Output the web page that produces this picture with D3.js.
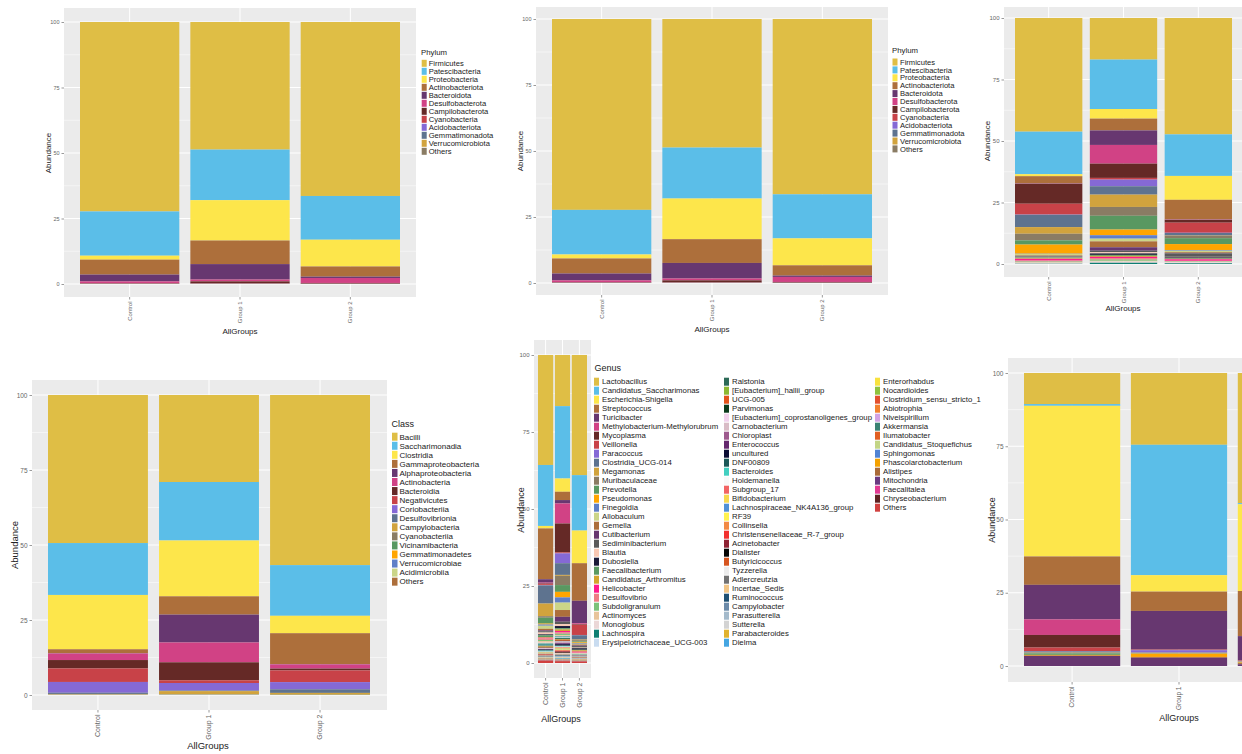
<!DOCTYPE html>
<html>
<head>
<meta charset="utf-8">
<script src="https://cdn.jsdelivr.net/npm/d3@7"></script>
<style>
  html, body { margin: 0; padding: 0; background: #ffffff; }
  svg { display: block; font-family: "Liberation Sans", Arial, sans-serif; }
</style>
</head>
<body>
<svg id="chart" width="1242" height="754"></svg>
<script>
// ---------- shared ----------
const groups = ["Control", "Group 1", "Group 2"];
const yTicks = [0, 25, 50, 75, 100];
const yTickLabels = ["0", "25", "50", "75", "100"];
const yMinorTicks = [12.5, 37.5, 62.5, 87.5];

// colour palette shared by every taxonomic rank
const palette = [
  "#DFBE45", "#5BBEE8", "#FDE64B", "#AD6F3B", "#673770", "#D14285", "#652926", "#C84248",
  "#8569D5", "#5E738F", "#D1A33D", "#8A7C64", "#599861", "#FFA500", "#5F7FC7", "#CBD588",
  "#AD6F3B", "#673770", "#5A5A5A", "#F9C9B4", "#1B1B38", "#5B9A62", "#D4A52E", "#FF1B8D",
  "#EE7C84", "#7CC279", "#E8C49B", "#EBD7D7", "#0E7F73", "#C9DCF0",
  "#2C6A57", "#8DB832", "#E2531C", "#0B3A1C", "#F1D1EC", "#D9BCC6", "#9E5A8E", "#64286E",
  "#0C0C34", "#1B5858", "#43CFC0", "#F8F8F8", "#F26464", "#F7D84E", "#5190D6", "#FFF24F",
  "#F28A44", "#F2302F", "#8E2233", "#050505", "#D6551F", "#ECECEC", "#727272", "#F2C586",
  "#1F5072", "#6B8AA9", "#A4BACB", "#D3D3D3", "#E0B22F", "#45A6E2",
  "#F8E23E", "#8FC23E", "#E3502E", "#F2812E", "#D3A2E3", "#3A8172", "#E15F22", "#C3D585",
  "#5183D3", "#F4A100", "#A96B39", "#6A3A82", "#E23A93", "#5F2221", "#D1403F"
];

// ---------- phylum ----------
const phylumTaxa = ["Firmicutes", "Patescibacteria", "Proteobacteria", "Actinobacteriota",
  "Bacteroidota", "Desulfobacterota", "Campilobacterota", "Cyanobacteria", "Acidobacteriota",
  "Gemmatimonadota", "Verrucomicrobiota", "Others"];
const phylumControl = [72.3, 16.9, 1.5, 5.7, 2.6, 0.7, 0.15, 0.05, 0.03, 0.03, 0.02, 0.02];
const phylumGroup1  = [48.7, 19.3, 15.4, 9.0, 5.9, 0.7, 0.75, 0.1, 0.05, 0.04, 0.03, 0.03];
const phylumGroup2  = [66.4, 16.7, 10.2, 3.9, 0.5, 1.9, 0.25, 0.05, 0.03, 0.03, 0.02, 0.02];

// ---------- class ----------
const classTaxa = ["Bacilli", "Saccharimonadia", "Clostridia", "Gammaproteobacteria",
  "Alphaproteobacteria", "Actinobacteria", "Bacteroidia", "Negativicutes", "Coriobacteriia",
  "Desulfovibrionia", "Campylobacteria", "Cyanobacteriia", "Vicinamibacteria",
  "Gemmatimonadetes", "Verrucomicrobiae", "Acidimicrobiia", "Others"];
const classControl = [49.35, 17.3, 18.1, 1.3, 0.1, 2.2, 2.8, 4.5, 3.6, 0.4, 0.1, 0.04, 0.04, 0.04, 0.04, 0.04, 0.05];
const classGroup1  = [29.0, 19.5, 18.6, 6.1, 9.3, 6.6, 6.0, 0.9, 2.5, 0.2, 1.0, 0.1, 0.05, 0.05, 0.05, 0.05, 0];
const classGroup2  = [56.7, 16.9, 5.8, 10.3, 0.1, 1.4, 0.6, 3.9, 2.4, 1.2, 0.6, 0.05, 0.05, 0, 0, 0, 0];

// ---------- family ----------
const familyTaxa = ["Lactobacillaceae", "Saccharimonadaceae", "Enterobacteriaceae", "Streptococcaceae",
  "Erysipelotrichaceae", "Beijerinckiaceae", "Mycoplasmataceae", "Veillonellaceae", "Rhodobacteraceae",
  "Clostridia_UCG-014", "Selenomonadaceae", "Muribaculaceae", "Prevotellaceae", "Pseudomonadaceae",
  "Peptostreptococcaceae", "Erysipelatoclostridiaceae", "Gemellaceae", "Propionibacteriaceae",
  "Chitinophagaceae", "Lachnospiraceae", "Bacteroidaceae", "Ruminococcaceae", "Clostridiaceae",
  "Helicobacteraceae", "Desulfovibrionaceae", "Oscillospiraceae", "Actinomycetaceae",
  "Monoglobaceae", "Others"];
const familyControl = [46.2, 17.3, 0.8, 2.9, 0.1, 0.1, 8.1, 4.4, 0.1, 5.0, 2.7, 2.7, 1.7, 3.7,
  0.1, 0.6, 0.2, 0.1, 0.3, 0.2, 0.1, 0.3, 0.2, 0.7, 0.4, 0.3, 0.2, 0.4, 0.1];
const familyGroup1  = [16.9, 20.1, 3.9, 4.8, 5.9, 7.6, 5.8, 0.7, 2.7, 3.4, 5.0, 3.6, 5.6, 2.3,
  1.4, 1.1, 2.4, 1.4, 0.6, 0.5, 0.6, 0.4, 0.4, 0.5, 0.6, 0.5, 0.3, 0.5, 0.5];
const familyGroup2  = [47.3, 16.9, 9.7, 8.0, 0.1, 0.1, 1.1, 4.1, 0.1, 0.9, 0.1, 1.1, 2.4, 2.4,
  0.3, 0.6, 0.3, 0.2, 1.4, 0.2, 0.4, 0.2, 0.2, 0.6, 0.2, 0.2, 0.1, 0.5, 0.3];

// ---------- genus ----------
const genusTaxa = [
  "Lactobacillus", "Candidatus_Saccharimonas", "Escherichia-Shigella", "Streptococcus", "Turicibacter",
  "Methylobacterium-Methylorubrum", "Mycoplasma", "Veillonella", "Paracoccus", "Clostridia_UCG-014",
  "Megamonas", "Muribaculaceae", "Prevotella", "Pseudomonas", "Finegoldia", "Allobaculum", "Gemella",
  "Cutibacterium", "Sediminibacterium", "Blautia", "Dubosiella", "Faecalibacterium",
  "Candidatus_Arthromitus", "Helicobacter", "Desulfovibrio", "Subdoligranulum", "Actinomyces",
  "Monoglobus", "Lachnospira", "Erysipelotrichaceae_UCG-003",
  "Ralstonia", "[Eubacterium]_hallii_group", "UCG-005", "Parvimonas",
  "[Eubacterium]_coprostanoligenes_group", "Carnobacterium", "Chloroplast", "Enterococcus",
  "uncultured", "DNF00809", "Bacteroides", "Holdemanella", "Subgroup_17", "Bifidobacterium",
  "Lachnospiraceae_NK4A136_group", "RF39", "Collinsella", "Christensenellaceae_R-7_group",
  "Acinetobacter", "Dialister", "Butyricicoccus", "Tyzzerella", "Adlercreutzia", "Incertae_Sedis",
  "Ruminococcus", "Campylobacter", "Parasutterella", "Sutterella", "Parabacteroides", "Dielma",
  "Enterorhabdus", "Nocardioides", "Clostridium_sensu_stricto_1", "Abiotrophia", "Niveispirillum",
  "Akkermansia", "Ilumatobacter", "Candidatus_Stoquefichus", "Sphingomonas", "Phascolarctobacterium",
  "Alistipes", "Mitochondria", "Faecalitalea", "Chryseobacterium", "Others"];
const genusControl = [
  35.7, 19.8, 0.8, 16.5, 1.1, 0.3, 0.2, 0.3, 0.1, 5.9, 4.1, 0.5, 1.9, 0.3, 0.4, 1.0, 0.5, 0.3, 0.4, 0.6,
  0.3, 0.6, 0.2, 0.2, 0.5, 0.4, 0.5, 0.3, 0.4, 0.2,
  0.2, 0.2, 0.3, 0.1, 0.2, 0.1, 0.1, 0.1, 0.3, 0.1, 0.3, 0.1, 0.1, 0.2, 0.2, 0.1, 0.2, 0.1, 0.1, 0.1,
  0.1, 0.1, 0.1, 0.1, 0.1, 0.1, 0.1, 0.1, 0.1, 0.1,
  0.05, 0.05, 0.1, 0.05, 0.05, 0.05, 0.05, 0.05, 0.05, 0.05, 0.05, 0.05, 0.05, 0.05, 0.75];
const genusGroup1 = [
  16.6, 23.5, 4.3, 2.7, 1.1, 6.5, 9.4, 0.3, 3.2, 3.8, 0.3, 3.0, 2.2, 1.8, 1.7, 2.4, 2.2, 1.6, 0.8, 0.6,
  0.7, 0.4, 0.5, 0.4, 0.5, 0.4, 0.3, 0.2, 0.3, 0.2,
  0.3, 0.2, 0.4, 0.2, 0.2, 0.2, 0.2, 0.3, 0.4, 0.2, 0.2, 0.2, 0.2, 0.3, 0.2, 0.2, 0.2, 0.2, 0.3, 0.2,
  0.2, 0.2, 0.2, 0.2, 0.2, 0.2, 0.2, 0.2, 0.2, 0.2,
  0.05, 0.05, 0.05, 0.05, 0.05, 0.05, 0.05, 0.05, 0.05, 0.05, 0.05, 0.05, 0.05, 0.05, 0.6];
const genusGroup2 = [
  39.0, 18.0, 10.6, 12.2, 7.3, 0.3, 0.2, 3.3, 0.1, 1.4, 0.2, 0.4, 0.3, 0.3, 0.2, 0.2, 0.3, 0.2, 0.5, 0.2,
  0.5, 0.2, 0.4, 0.3, 0.2, 0.1, 0.1, 0.1, 0.1, 0.1,
  0.05, 0.05, 0.05, 0.05, 0.05, 0.05, 0.05, 0.05, 0.05, 0.05, 0.05, 0.05, 0.05, 0.05, 0.05, 0.05, 0.05,
  0.05, 0.05, 0.05, 0.05, 0.05, 0.05, 0.05, 0.05, 0.05, 0.05, 0.05, 0.05, 0.05,
  0.05, 0.05, 0.05, 0.05, 0.05, 0.05, 0.05, 0.05, 0.05, 0.05, 0.05, 0.05, 0.05, 0.05, 0.5];

// ---------- order ----------
const orderTaxa = ["Lactobacillales", "Saccharimonadales", "Enterobacterales", "Burkholderiales",
  "Rhizobiales", "Mycoplasmatales", "Erysipelotrichales", "Veillonellales-Selenomonadales",
  "Rhodobacterales", "Oscillospirales", "Bacteroidales", "Lachnospirales", "Pseudomonadales",
  "Peptostreptococcales-Tissierellales", "Christensenellales", "Acholeplasmatales",
  "Propionibacteriales", "Others"];
const orderControl = [10.6, 0.6, 51.4, 9.7, 11.8, 5.3, 4.3, 1.2, 0.1, 0.4, 0.1, 0.2, 0.5, 0.3, 0, 0, 0, 3.5];
const orderGroup1  = [24.5, 44.5, 5.6, 6.6, 13.1, 0.1, 0.1, 0.1, 0.8, 0.1, 0.1, 0.1, 0.1, 1.1, 0, 0, 0.3, 2.8];
const orderGroup2  = [44.4, 0.4, 29.6, 15.4, 8.2, 0.1, 0.1, 0.1, 0.1, 0.1, 0.1, 0.1, 0.1, 0.2, 0, 0, 0.4, 0.6];

const svg = d3.select("#chart");

function drawPanel(cfg) {
  const g = svg.append("g");
  const x = d3.scaleBand().domain(groups).range(cfg.bars).paddingInner(0.1);
  const y = d3.scaleLinear().domain([0, 100]).range([cfg.yZero, cfg.yFull]);
  const [bx0, by0, bx1, by1] = cfg.bg;

  // panel background and grid
  g.append("rect").attr("x", bx0).attr("y", by0)
    .attr("width", bx1 - bx0).attr("height", by1 - by0).attr("fill", "#EBEBEB");
  g.selectAll("line.minor").data(yMinorTicks).join("line")
    .attr("x1", bx0).attr("x2", bx1).attr("y1", d => y(d)).attr("y2", d => y(d))
    .attr("stroke", "#ffffff").attr("stroke-width", 0.5);
  g.selectAll("line.major").data(yTicks).join("line")
    .attr("x1", bx0).attr("x2", bx1).attr("y1", d => y(d)).attr("y2", d => y(d))
    .attr("stroke", "#ffffff").attr("stroke-width", 1);
  g.selectAll("line.vmajor").data(groups).join("line")
    .attr("x1", d => x(d) + x.bandwidth() / 2).attr("x2", d => x(d) + x.bandwidth() / 2)
    .attr("y1", by0).attr("y2", by1)
    .attr("stroke", "#ffffff").attr("stroke-width", 1);

  // stacked bars: first taxon on top, last taxon at the bottom
  const rows = groups.map((grp, i) => {
    const r = { group: grp };
    cfg.taxa.forEach((t, j) => { r[t] = cfg.values[i][j]; });
    return r;
  });
  const series = d3.stack().keys(cfg.taxa).order(d3.stackOrderReverse)(rows);
  const color = d3.scaleOrdinal().domain(cfg.taxa).range(cfg.colors);
  g.append("g").selectAll("g").data(series).join("g")
    .attr("fill", d => color(d.key))
    .selectAll("rect").data(d => d).join("rect")
    .attr("x", d => x(d.data.group))
    .attr("width", x.bandwidth())
    .attr("y", d => y(d[1]))
    .attr("height", d => Math.max(0, y(d[0]) - y(d[1])));

  // y axis
  const ya = g.append("g").attr("transform", `translate(${bx0},0)`)
    .call(d3.axisLeft(y).tickValues(yTicks).tickFormat((d, i) => yTickLabels[i])
      .tickSize(2.5).tickPadding(2));
  ya.select(".domain").remove();
  ya.selectAll(".tick line").attr("stroke", "#555").attr("stroke-width", 0.6);
  ya.selectAll(".tick text").attr("fill", "#666").attr("font-size", cfg.tickFont)
    .attr("font-family", "Liberation Sans, Arial, sans-serif");

  // x axis with vertical labels (only categories whose tick lies on the page)
  const xa = g.append("g").attr("transform", `translate(0,${by1})`)
    .call(d3.axisBottom(x).tickSize(2.5).tickPadding(2));
  xa.select(".domain").remove();
  xa.selectAll(".tick line").attr("stroke", "#555").attr("stroke-width", 0.6);
  xa.selectAll(".tick text")
    .attr("transform", "rotate(-90)")
    .attr("x", -4.5).attr("y", 0).attr("dy", "0.35em")
    .attr("text-anchor", "end")
    .attr("fill", "#666").attr("font-size", cfg.xFont)
    .attr("font-family", "Liberation Sans, Arial, sans-serif");
  xa.selectAll(".tick").filter(d => x(d) + x.bandwidth() / 2 > 1242).remove();

  // axis titles
  g.append("text").attr("transform", `translate(${cfg.yTitle[0]},${cfg.yTitle[1]}) rotate(-90)`)
    .attr("text-anchor", "middle").attr("dy", "0.35em")
    .attr("font-size", cfg.titleFont).attr("fill", "#222").text("Abundance");
  g.append("text").attr("x", cfg.xTitle[0]).attr("y", cfg.xTitle[1])
    .attr("text-anchor", "middle")
    .attr("font-size", cfg.titleFont).attr("fill", "#222").text("AllGroups");

  // legend
  if (cfg.legend) {
    const L = cfg.legend;
    g.append("text").attr("x", L.titleX).attr("y", L.titleY)
      .attr("font-size", L.titleFont).attr("fill", "#222").text(L.title);
    const items = g.append("g").selectAll("g").data(cfg.taxa).join("g")
      .attr("transform", (d, i) => {
        const col = Math.floor(i / L.perCol);
        const row = i % L.perCol;
        return `translate(${L.cols[col]},${L.y0 + row * L.step})`;
      });
    items.append("rect").attr("x", 0).attr("y", -L.keyH / 2)
      .attr("width", L.keyW).attr("height", L.keyH).attr("fill", d => color(d));
    items.append("text").attr("x", L.textDx).attr("y", 0).attr("dy", "0.35em")
      .attr("font-size", L.font).attr("fill", "#1a1a1a").text(d => d);
  }
}

// top-left: phylum
drawPanel({
  bg: [64, 8, 416, 297], bars: [80, 400], yZero: 284, yFull: 22,
  taxa: phylumTaxa, colors: palette.slice(0, 12),
  values: [phylumControl, phylumGroup1, phylumGroup2],
  tickFont: 5.5, xFont: 6, titleFont: 8,
  yTitle: [48.5, 153], xTitle: [240, 334],
  legend: { title: "Phylum", titleX: 421, titleY: 54.5, titleFont: 7.8,
    cols: [421.7], perCol: 12, y0: 63.3, step: 8.0, keyW: 5, keyH: 7, textDx: 7, font: 7.6 }
});

// top-middle: phylum
drawPanel({
  bg: [536, 7, 888, 295], bars: [552, 872], yZero: 283, yFull: 19,
  taxa: phylumTaxa, colors: palette.slice(0, 12),
  values: [phylumControl, phylumGroup1, phylumGroup2],
  tickFont: 5.5, xFont: 6, titleFont: 8,
  yTitle: [520, 151], xTitle: [712, 332],
  legend: { title: "Phylum", titleX: 892, titleY: 52.5, titleFont: 7.8,
    cols: [892.5], perCol: 12, y0: 62, step: 7.9, keyW: 5, keyH: 7, textDx: 7.5, font: 7.6 }
});

// top-right: family
drawPanel({
  bg: [1004, 7, 1243, 277], bars: [1015, 1232], yZero: 264, yFull: 18,
  taxa: familyTaxa, colors: palette.slice(0, familyTaxa.length),
  values: [familyControl, familyGroup1, familyGroup2],
  tickFont: 6, xFont: 6, titleFont: 8,
  yTitle: [987, 141], xTitle: [1123, 311]
});

// bottom-left: class
drawPanel({
  bg: [32, 380, 387, 710], bars: [48, 370], yZero: 695, yFull: 395,
  taxa: classTaxa, colors: palette.slice(0, 17),
  values: [classControl, classGroup1, classGroup2],
  tickFont: 6.5, xFont: 7, titleFont: 9.5,
  yTitle: [14.5, 545], xTitle: [208, 749],
  legend: { title: "Class", titleX: 391.5, titleY: 426.5, titleFont: 9,
    cols: [392], perCol: 17, y0: 436.7, step: 9.06, keyW: 5.5, keyH: 8, textDx: 7.5, font: 8 }
});

// bottom-middle: genus
drawPanel({
  bg: [534, 340, 591, 678], bars: [538, 587], yZero: 663, yFull: 355,
  taxa: genusTaxa, colors: palette,
  values: [genusControl, genusGroup1, genusGroup2],
  tickFont: 6, xFont: 7, titleFont: 9,
  yTitle: [521, 510], xTitle: [561, 722],
  legend: { title: "Genus", titleX: 594.5, titleY: 371, titleFont: 9,
    cols: [594, 724, 875], perCol: 30, y0: 381.7, step: 9.0, keyW: 5, keyH: 8, textDx: 8, font: 7.8 }
});

// bottom-right: order
drawPanel({
  bg: [1008, 358, 1350, 682], bars: [1024, 1334], yZero: 666, yFull: 373,
  taxa: orderTaxa, colors: palette.slice(0, orderTaxa.length),
  values: [orderControl, orderGroup1, orderGroup2],
  tickFont: 6.5, xFont: 6.5, titleFont: 9,
  yTitle: [992, 520], xTitle: [1179, 721]
});
</script>
</body>
</html>
